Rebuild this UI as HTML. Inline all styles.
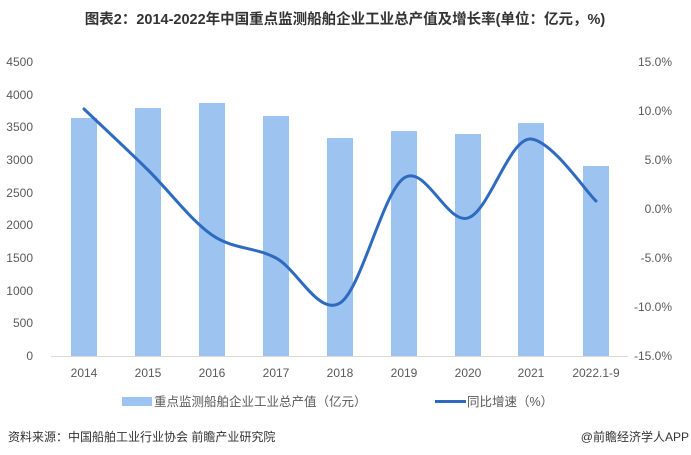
<!DOCTYPE html>
<html><head><meta charset="utf-8"><style>
body{margin:0;background:#fff;}
svg{display:block;font-family:"Liberation Sans","Noto Sans CJK SC",sans-serif;}
</style></head><body>
<svg width="691" height="455" viewBox="0 0 691 455">
<text x="345" y="24" text-anchor="middle" font-size="14.5" font-weight="bold" fill="#333">图表2：2014-2022年中国重点监测船舶企业工业总产值及增长率(单位：亿元，%)</text>
<g font-size="12" fill="#595959" text-anchor="end">
<text x="33" y="66">4500</text><text x="33" y="99">4000</text><text x="33" y="131">3500</text>
<text x="33" y="164">3000</text><text x="33" y="197">2500</text><text x="33" y="229">2000</text>
<text x="33" y="262">1500</text><text x="33" y="295">1000</text><text x="33" y="327">500</text>
<text x="33" y="360">0</text>
</g>
<g font-size="12" fill="#595959" text-anchor="end">
<text x="672" y="66">15.0%</text><text x="672" y="115">10.0%</text><text x="672" y="164">5.0%</text>
<text x="672" y="213">0.0%</text><text x="672" y="262">-5.0%</text><text x="672" y="311">-10.0%</text>
<text x="672" y="360">-15.0%</text>
</g>
<g fill="#9dc3f0">
<rect x="71" y="118" width="26" height="238"/>
<rect x="135" y="108" width="26" height="248"/>
<rect x="199" y="103" width="26" height="253"/>
<rect x="263" y="116" width="26" height="240"/>
<rect x="327" y="138" width="26" height="218"/>
<rect x="391" y="131" width="26" height="225"/>
<rect x="455" y="134" width="26" height="222"/>
<rect x="518" y="123" width="26" height="233"/>
<rect x="583" y="166" width="26" height="190"/>
</g>
<line x1="51" y1="356.5" x2="628" y2="356.5" stroke="#d9d9d9" stroke-width="1"/>
<path d="M84,109 C94.7,119.2 126.7,149 148,170 C169.3,191 190.7,220.3 212,235 C233.3,249.7 254.7,246.7 276,258 C297.3,269.3 318.7,316.3 340,303 C361.3,289.7 382.7,192.2 404,178 C425.3,163.8 446.8,224.5 468,218 C489.2,211.5 509.7,136.8 531,139 C552.3,141.2 585.2,190.7 596,201" fill="none" stroke="#2e6bc0" stroke-width="3" stroke-linecap="round"/>
<g font-size="12" fill="#595959" text-anchor="middle">
<text x="84" y="377">2014</text><text x="148" y="377">2015</text><text x="212" y="377">2016</text>
<text x="276" y="377">2017</text><text x="340" y="377">2018</text><text x="404" y="377">2019</text>
<text x="468" y="377">2020</text><text x="531" y="377">2021</text><text x="596" y="377">2022.1-9</text>
</g>
<rect x="122" y="397" width="30" height="9" fill="#9dc3f0"/>
<text x="154" y="406" font-size="12.5" fill="#595959">重点监测船舶企业工业总产值（亿元）</text>
<line x1="435" y1="401.5" x2="466" y2="401.5" stroke="#2e6bc0" stroke-width="3"/>
<text x="467" y="406" font-size="12.5" fill="#595959">同比增速（%）</text>
<text x="8" y="441" font-size="12" fill="#333">资料来源：中国船舶工业行业协会 前瞻产业研究院</text>
<text x="689" y="441" font-size="12" fill="#333" text-anchor="end">@前瞻经济学人APP</text>
</svg>
</body></html>
